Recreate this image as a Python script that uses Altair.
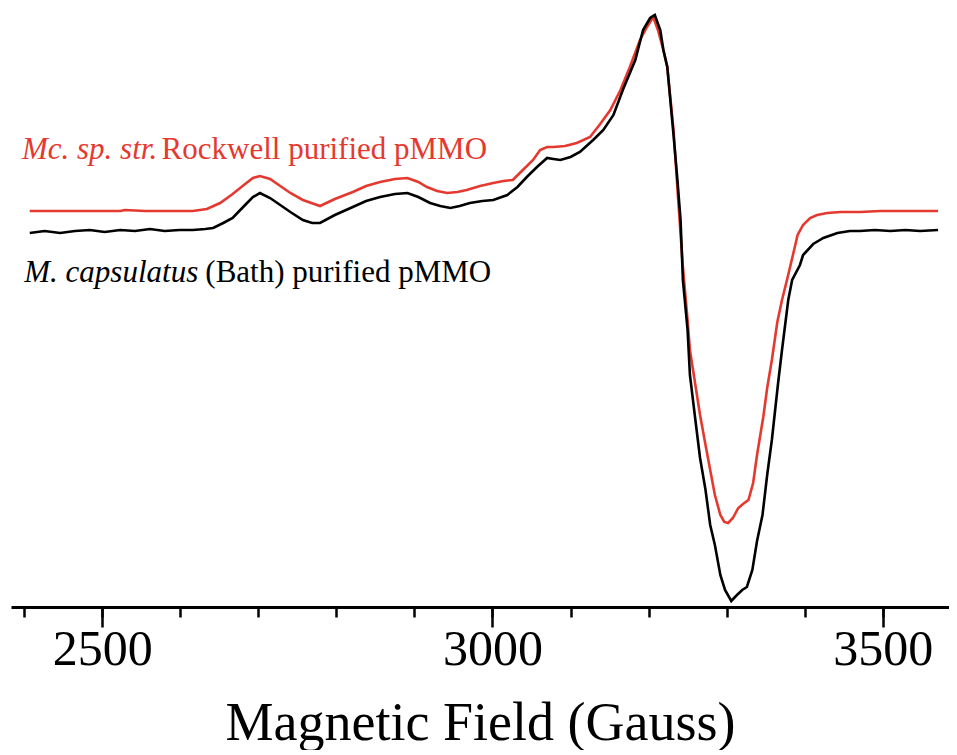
import altair as alt
import pandas as pd

# --- EPR spectra (field in Gauss, derivative signal in arbitrary units) ---
bath_field = [2407, 2426, 2446, 2465, 2484, 2503, 2523, 2542, 2561, 2580, 2599, 2616, 2632, 2642,
              2655, 2667, 2683, 2693, 2702, 2715, 2728, 2741, 2757, 2769, 2779, 2798, 2821, 2838,
              2856, 2875, 2891, 2905, 2920, 2933, 2946, 2958, 2971, 2987, 3001, 3019, 3032, 3044,
              3057, 3070, 3078, 3087, 3100, 3112, 3129, 3142, 3155, 3167, 3183, 3193, 3202, 3208,
              3215, 3219, 3224, 3232, 3237, 3241, 3244, 3250, 3253, 3260, 3266, 3273, 3279, 3285,
              3292, 3298, 3306, 3312, 3320, 3326, 3333, 3339, 3346, 3352, 3358, 3366, 3371, 3379,
              3384, 3394, 3398, 3411, 3424, 3442, 3458, 3471, 3490, 3510, 3529, 3548, 3571]
bath_signal = [374, 376, 374, 376, 377, 375, 377, 376, 378, 376, 377, 377, 378, 379,
               384, 389, 402, 410, 414, 409, 402, 395, 387, 384, 384, 392, 400, 406,
               410, 413, 414, 410, 404, 401, 399, 401, 404, 406, 407, 412, 420, 430,
               440, 449, 448, 447, 450, 455, 467, 477, 492, 517, 547, 577, 589, 592,
               577, 557, 540, 472, 427, 387, 327, 277, 232, 187, 149, 117, 82, 62,
               32, 17, 6, 11, 17, 20, 37, 66, 92, 132, 167, 224, 257, 307,
               327, 342, 352, 363, 369, 374, 376, 376, 377, 376, 377, 376, 377]

rock_field = [2407, 2446, 2484, 2523, 2529, 2555, 2593, 2616, 2634, 2651, 2667, 2683, 2693, 2702,
              2715, 2728, 2741, 2757, 2779, 2798, 2821, 2838, 2856, 2875, 2891, 2905, 2916, 2929,
              2942, 2955, 2967, 2984, 3001, 3014, 3026, 3035, 3052, 3061, 3070, 3078, 3093, 3108,
              3125, 3138, 3151, 3164, 3176, 3189, 3198, 3206, 3212, 3219, 3224, 3232, 3238, 3244,
              3250, 3253, 3260, 3266, 3273, 3279, 3285, 3292, 3297, 3302, 3308, 3315, 3321, 3328,
              3334, 3339, 3347, 3352, 3358, 3365, 3371, 3378, 3385, 3391, 3398, 3407, 3416, 3429,
              3446, 3471, 3497, 3523, 3548, 3571]
rock_signal = [396, 396, 396, 396, 397, 396, 396, 396, 398, 404, 413, 423, 429, 431,
               428, 421, 414, 407, 401, 408, 415, 421, 425, 428, 429, 425, 420, 416,
               414, 415, 417, 421, 424, 426, 427, 434, 447, 457, 460, 460, 461, 464,
               470, 483, 497, 517, 540, 567, 580, 590, 577, 557, 540, 477, 407, 340,
               287, 257, 222, 192, 162, 137, 112, 92, 85, 84, 89, 99, 103, 107,
               124, 152, 190, 219, 247, 285, 307, 329, 352, 372, 382, 389, 392, 394,
               395, 395, 396, 396, 396, 396]

series_names = ["Rockwell", "Bath"]
series_colors = ["#e5392f", "#000000"]

# annotation pieces (text, style, colour, anchor in data units)
label_text = ["Mc. sp. str.", "Rockwell purified pMMO", "M. capsulatus", "(Bath) purified pMMO"]
label_style = ["italic", "normal", "italic", "normal"]
label_color = ["#e5392f", "#e5392f", "#000000", "#000000"]
label_field = [2397, 2576, 2400, 2632]
label_signal = [448, 448, 325, 325]

major_ticks = [2500, 3000, 3500]
minor_ticks = list(range(2400, 3600, 100))

spec = pd.concat([
    pd.DataFrame({"field": rock_field, "signal": rock_signal, "sample": series_names[0]}),
    pd.DataFrame({"field": bath_field, "signal": bath_signal, "sample": series_names[1]}),
])
labels = pd.DataFrame({"field": label_field, "signal": label_signal, "text": label_text,
                       "style": label_style, "color": label_color})

FONT = "Liberation Serif"
x_scale = alt.Scale(domain=[2383, 3585], nice=False, zero=False)

major_axis = alt.Axis(
    orient="bottom",
    values=major_ticks, format="d",
    tickSize=20, tickWidth=2.5, tickColor="black",
    domainWidth=3, domainColor="black",
    labelFont=FONT, labelFontSize=50, labelColor="black", labelPadding=-3,
    labelFlush=False, labelOverlap=False,
    title="Magnetic Field (Gauss)", titleFont=FONT, titleFontSize=54,
    titleFontWeight="normal", titleColor="black", titlePadding=22,
    grid=False,
)
minor_axis = alt.Axis(
    orient="bottom",
    values=minor_ticks, labels=False, domain=False, title=None,
    tickSize=10, tickWidth=2.5, tickColor="black", grid=False,
)
y_enc = alt.Y("signal:Q", scale=alt.Scale(domain=[0, 599], nice=False, zero=False), axis=None)

lines = alt.Chart(spec).mark_line(strokeWidth=2.6).encode(
    x=alt.X("field:Q", scale=x_scale, axis=major_axis),
    y=y_enc,
    color=alt.Color("sample:N", scale=alt.Scale(domain=series_names, range=series_colors), legend=None),
    order=alt.Order("field:Q"),
)

ital = alt.Chart(labels).transform_filter("datum.style === 'italic'").mark_text(
    font=FONT, fontSize=31, fontStyle="italic", align="left", baseline="alphabetic"
).encode(x=alt.X("field:Q", scale=x_scale, axis=minor_axis), y=y_enc, text="text:N",
         color=alt.Color("color:N", scale=None))

roman = alt.Chart(labels).transform_filter("datum.style === 'normal'").mark_text(
    font=FONT, fontSize=31, fontStyle="normal", align="left", baseline="alphabetic"
).encode(x=alt.X("field:Q", scale=x_scale, axis=None), y=y_enc, text="text:N",
         color=alt.Color("color:N", scale=None))

chart = alt.layer(lines, ital, roman).resolve_axis(x="independent").properties(
    width=938, height=599,
    padding={"left": 3, "top": 0, "right": 0, "bottom": 0},
    background="white",
).configure_view(stroke=None)

chart.save("out.html", embed_options={"renderer": "svg", "actions": False})
